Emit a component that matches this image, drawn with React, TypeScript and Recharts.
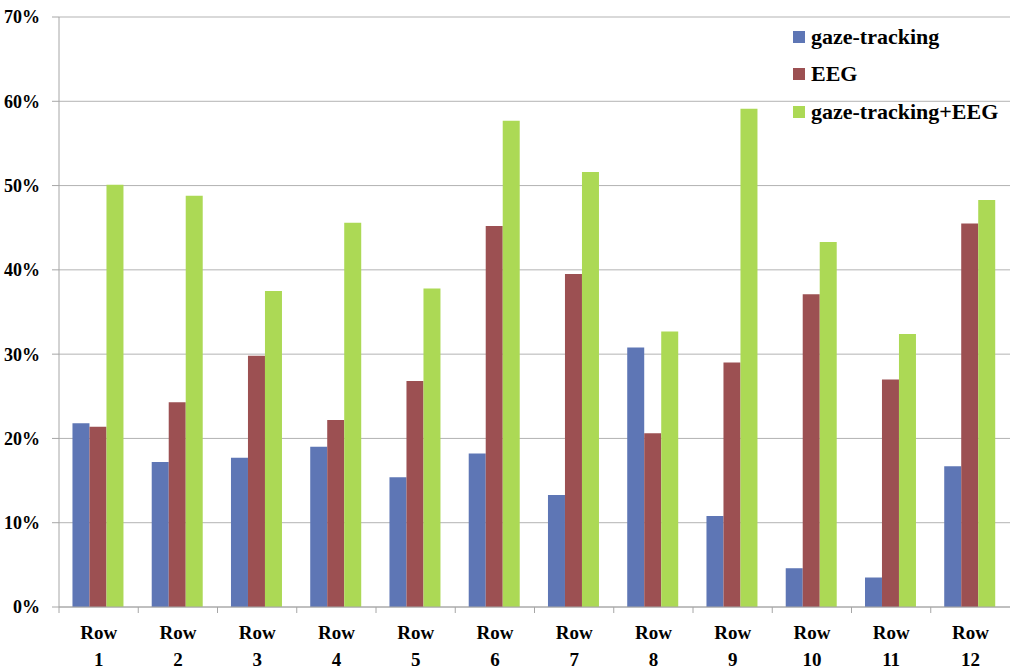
import React from "react";
import { BarChart, Bar, XAxis, YAxis, CartesianGrid } from "recharts";

const categories = ["Row 1", "Row 2", "Row 3", "Row 4", "Row 5", "Row 6", "Row 7", "Row 8", "Row 9", "Row 10", "Row 11", "Row 12"];
const gazeTracking = [21.8, 17.2, 17.7, 19.0, 15.4, 18.2, 13.3, 30.8, 10.8, 4.6, 3.5, 16.7];
const eeg = [21.4, 24.3, 29.8, 22.2, 26.8, 45.2, 39.5, 20.6, 29.0, 37.1, 27.0, 45.5];
const combined = [50.1, 48.8, 37.5, 45.6, 37.8, 57.7, 51.6, 32.7, 59.1, 43.3, 32.4, 48.3];
const yTicks = [0, 10, 20, 30, 40, 50, 60, 70];
const seriesNames = ["gaze-tracking", "EEG", "gaze-tracking+EEG"];
const seriesColors = ["#5E76B5", "#9C5052", "#ACD955"];

const data = categories.map((c, i) => ({
  name: c,
  gaze: gazeTracking[i],
  eeg: eeg[i],
  both: combined[i],
}));

const FONT = "Liberation Serif";
const CHART_W = 1024;
const CHART_H = 672;
const MARGIN = { top: 17, right: 14, bottom: 0, left: 0 };
const Y_W = 59;
const BAND = (CHART_W - MARGIN.left - MARGIN.right - Y_W) / categories.length;

const XTick = (props: any) => {
  const { x, y, payload } = props;
  const parts = String(payload.value).split(" ");
  return (
    <g transform={`translate(${x},${y})`}>
      <line x1={-BAND / 2} x2={-BAND / 2} y1={-8} y2={-2} stroke="#a6a6a6" strokeWidth={1} />
      <text textAnchor="middle" style={{ fontFamily: FONT }} fontWeight="bold" fontSize={19} fill="#000">
        <tspan x={0} dy={24}>{parts[0]}</tspan>
        <tspan x={0} dy={27}>{parts[1]}</tspan>
      </text>
    </g>
  );
};

export default function App() {
  return (
    <div style={{ position: "absolute", left: 0, top: 0, background: "#fff", width: CHART_W, height: CHART_H }}>
      <BarChart width={CHART_W} height={CHART_H} data={data} margin={MARGIN} barCategoryGap="17%" barGap={0}>
        <CartesianGrid vertical={false} stroke="#b3b3b3" />
        <XAxis
          dataKey="name"
          height={65}
          tick={<XTick />}
          tickLine={false}
          axisLine={{ stroke: "#a6a6a6" }}
          interval={0}
        />
        <YAxis
          width={Y_W}
          domain={[0, 70]}
          ticks={yTicks}
          tickFormatter={(v: number) => `${v}%`}
          tick={{ style: { fontFamily: FONT }, fontWeight: "bold", fontSize: 18, fill: "#000" }}
          tickLine={{ stroke: "#a6a6a6" }}
          tickSize={7}
          tickMargin={12}
          axisLine={{ stroke: "#a6a6a6" }}
        />
        <Bar dataKey="gaze" name={seriesNames[0]} fill={seriesColors[0]} isAnimationActive={false} />
        <Bar dataKey="eeg" name={seriesNames[1]} fill={seriesColors[1]} isAnimationActive={false} />
        <Bar dataKey="both" name={seriesNames[2]} fill={seriesColors[2]} isAnimationActive={false} />
      </BarChart>
      <div style={{ position: "absolute", left: 793, top: 18, fontFamily: FONT, fontWeight: "bold", fontSize: 22 }}>
        {seriesNames.map((n, i) => (
          <div key={n} style={{ display: "flex", alignItems: "center", height: 37.5 }}>
            <span style={{ display: "inline-block", width: 12, height: 12, background: seriesColors[i], marginRight: 6 }} />
            <span>{n}</span>
          </div>
        ))}
      </div>
    </div>
  );
}
